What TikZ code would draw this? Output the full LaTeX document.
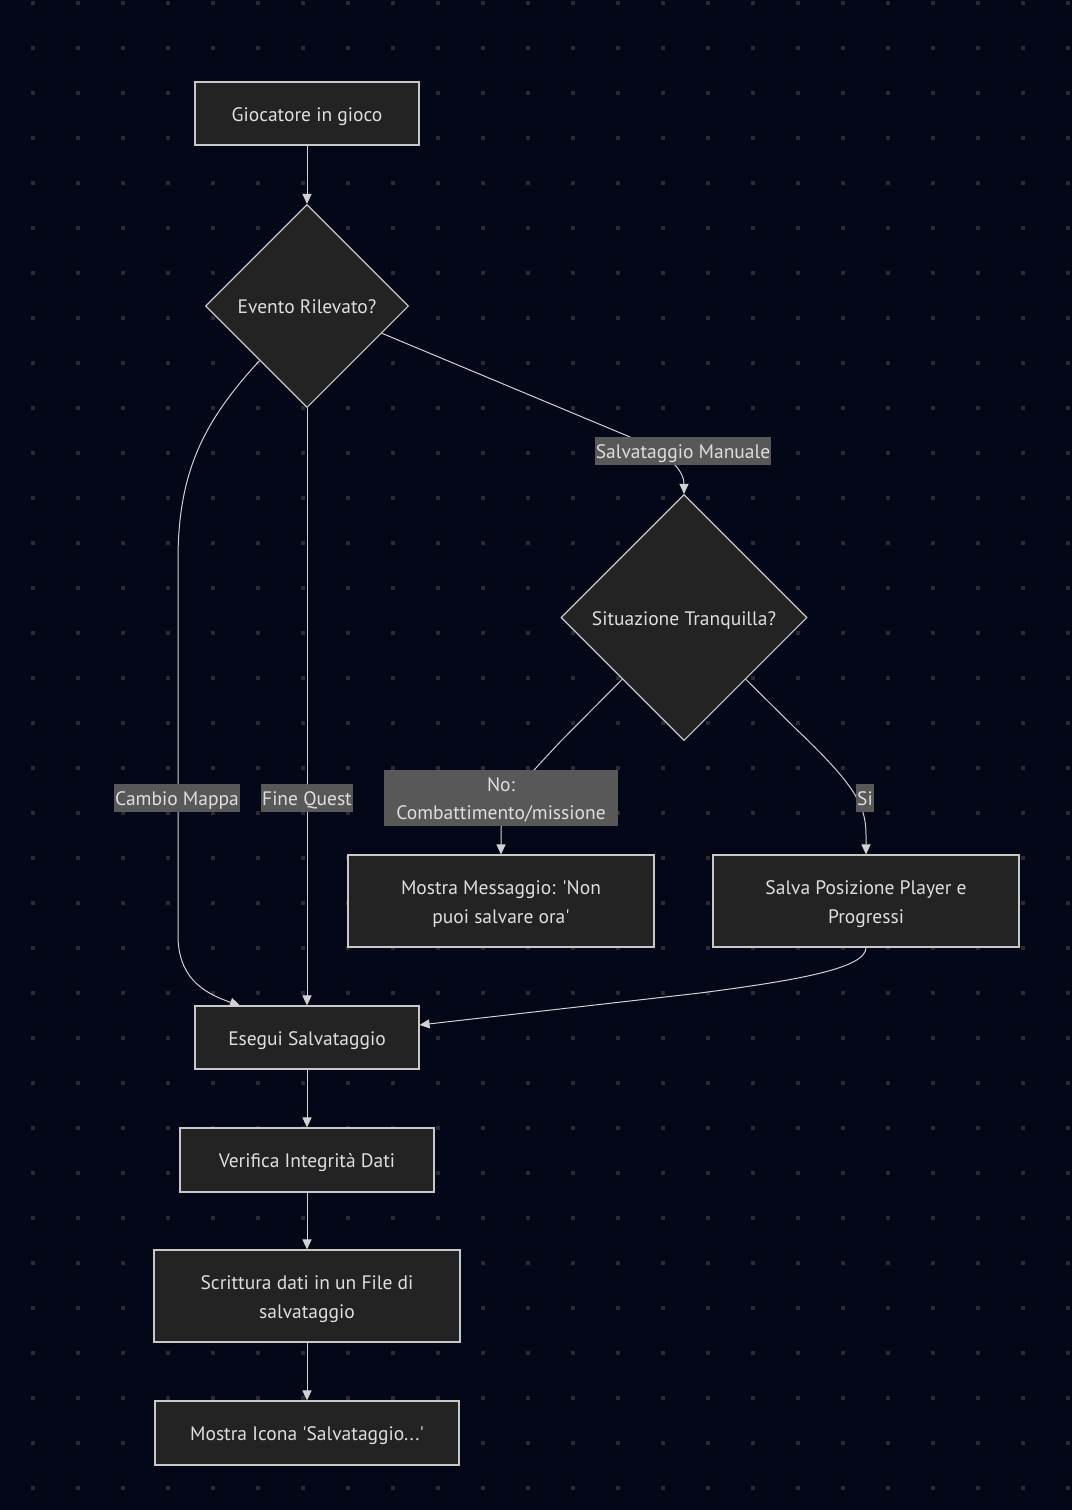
\documentclass[tikz,border=0pt]{standalone}
\usepackage{fontspec}
\setmainfont{PT Sans}
\usetikzlibrary{shapes.geometric,arrows.meta}
\definecolor{bgcol}{RGB}{3,7,24}
\definecolor{dotcol}{RGB}{42,42,50}
\definecolor{nodefill}{RGB}{34,35,34}
\definecolor{bordercol}{RGB}{200,200,200}
\definecolor{txtcol}{RGB}{222,222,222}
\definecolor{edgecol}{RGB}{210,210,210}
\definecolor{lblfill}{RGB}{88,88,88}
\newcommand\ntext[1]{\raisebox{-2pt}[\height][\depth]{\begin{tabular}{@{}c@{}}#1\end{tabular}}}
\tikzset{
  boxnode/.style={draw=bordercol, fill=nodefill, line width=1.1pt, text=txtcol,
    inner sep=0pt, align=center, font=\fontsize{19.5}{29}\selectfont},
  decnode/.style={diamond, aspect=1, draw=bordercol, fill=nodefill, line width=1.1pt,
    text=txtcol, inner sep=0pt, font=\fontsize{19.5}{29}\selectfont},
  lblnode/.style={fill=lblfill, text=txtcol, inner xsep=1pt, inner ysep=0pt,
    minimum height=28pt, align=center, font=\fontsize{19.5}{28}\selectfont},
  edge/.style={draw=edgecol, line width=1pt, -{Triangle[length=10pt,width=9pt]}}
}
\begin{document}
\begin{tikzpicture}[x=1pt,y=-1pt]
\fill[bgcol] (0,0) rectangle (1072,1510);
\foreach \i in {0,...,23}{
  \foreach \j in {0,...,33}{
    \fill[dotcol] ({31+45*\i},{1+45*\j}) rectangle ++(4,4);
  }
}
% nodes
\node[boxnode, minimum width=224pt, minimum height=63pt] (g) at (307,113.5) {\ntext{Giocatore in gioco}};
\node[decnode, minimum width=203pt, minimum height=203pt] (d1) at (307,306) {\ntext{Evento Rilevato?}};
\node[decnode, minimum width=246pt, minimum height=246pt] (d2) at (684,617.5) {\ntext{Situazione Tranquilla?}};
\node[boxnode, minimum width=306pt, minimum height=92pt] (m) at (501,901) {\ntext{Mostra Messaggio: \textquotesingle Non\\puoi salvare ora\textquotesingle}};
\node[boxnode, minimum width=306pt, minimum height=92pt] (s) at (866,901) {\ntext{Salva Posizione Player e\\Progressi}};
\node[boxnode, minimum width=224pt, minimum height=63pt] (e) at (307,1037.5) {\ntext{Esegui Salvataggio}};
\node[boxnode, minimum width=254pt, minimum height=64pt] (v) at (307,1160) {\ntext{Verifica Integrità Dati}};
\node[boxnode, minimum width=306pt, minimum height=92pt] (w) at (307,1296) {\ntext{Scrittura dati in un File di\\salvataggio}};
\node[boxnode, minimum width=304pt, minimum height=64pt] (i) at (307,1433) {\ntext{Mostra Icona \textquotesingle Salvataggio.\kern1.5pt.\kern1.5pt.\textquotesingle}};
% edges
\draw[edge] (g.south) -- (d1.north);
\draw[edge] (d1.-20.7) -- (630,437) .. controls (668,453) and (684,470) .. (d2.north);
\draw[edge] (d1.-131.6) .. controls (205,420) and (178,470) .. (178,560) -- (178,935)
   .. controls (178,975) and (200,992) .. ([xshift=-67pt]e.north);
\draw[edge] (d1.south) -- (e.north);
\draw[edge] (d2.-135) -- (560,742) .. controls (515,790) and (502,805) .. (501,830) -- (m.north);
\draw[edge] (d2.-45) -- (795,728) .. controls (855,785) and (866,805) .. (866,835) -- (s.north);
\draw[edge] (s.south) .. controls (866,968) and (800,980) .. (700,993) -- ([yshift=12.5pt]e.east);
\draw[edge] (e.south) -- (v.north);
\draw[edge] (v.south) -- (w.north);
\draw[edge] (w.south) -- (i.north);
% edge labels
\node[lblnode] (lsm) at (683,450.5) {\ntext{Salvataggio Manuale}};
\node[lblnode] (lcm) at (177,798) {\ntext{Cambio Mappa}};
\node[lblnode] (lfq) at (307,798) {\ntext{Fine Quest}};
\node[lblnode, minimum width=234pt, minimum height=55pt] (lno) at (501,797.5) {\ntext{No:\\Combattimento/missione}};
\node[lblnode] (lsi) at (865,798) {\ntext{Si}};
\end{tikzpicture}
\end{document}
